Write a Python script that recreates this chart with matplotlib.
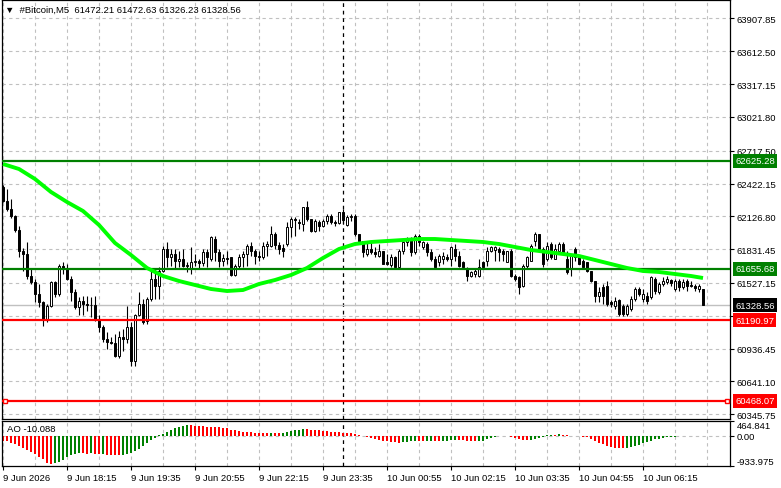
import numpy as np
import pandas as pd
import matplotlib
matplotlib.use("Agg")
import matplotlib.pyplot as plt
import matplotlib.transforms as mtransforms

# ---- data ----
opens = [62391, 62265, 62193, 62130, 62004, 61815, 61788, 61590, 61536, 61428,
         61356, 61203, 61320, 61536, 61428, 61680, 61653, 61563, 61446, 61311,
         61365, 61338, 61329, 61329, 61203, 61131, 61023, 60996, 60987, 60870,
         61041, 61023, 61131, 60825, 61239, 61338, 61185, 61383, 61563, 61500,
         61635, 61833, 61761, 61788, 61725, 61743, 61680, 61653, 61716, 61725,
         61707, 61806, 61743, 61923, 61806, 61725, 61752, 61761, 61599, 61680,
         61761, 61788, 61860, 61815, 61770, 61761, 61860, 61860, 61968, 61869,
         61842, 61878, 62031, 62103, 62076, 62058, 62211, 62103, 61995, 62076,
         62040, 62085, 62130, 62076, 62067, 62166, 62049, 62121, 62130, 61968,
         61905, 61788, 61833, 61806, 61770, 61815, 61716, 61689, 61761, 61671,
         61815, 61896, 61914, 61806, 61950, 61851, 61878, 61806, 61743, 61716,
         61743, 61761, 61743, 61833, 61770, 61716, 61653, 61590, 61608, 61590,
         61716, 61725, 61815, 61824, 61833, 61815, 61716, 61815, 61590, 61581,
         61500, 61680, 61725, 61905, 61968, 61833, 61743, 61878, 61743, 61815,
         61878, 61743, 61653, 61833, 61761, 61725, 61716, 61635, 61545, 61410,
         61491, 61500, 61356, 61320, 61374, 61320, 61248, 61293, 61383, 61473,
         61383, 61410, 61401, 61563, 61446, 61518, 61536, 61554, 61473, 61545,
         61491, 61545, 61509, 61500, 61473, 61472.21]
highs = [62409, 62373, 62283, 62139, 62040, 61842, 61896, 61653, 61563, 61518,
         61365, 61338, 61545, 61545, 61698, 61716, 61698, 61590, 61473, 61401,
         61410, 61410, 61401, 61410, 61239, 61149, 61086, 61041, 61068, 61095,
         61113, 61320, 61176, 61248, 61446, 61383, 61401, 61635, 61653, 61671,
         61860, 61896, 61833, 61833, 61815, 61833, 61716, 61851, 61788, 61743,
         61833, 61833, 61950, 61950, 61833, 61788, 61815, 61761, 61698, 61788,
         61815, 61878, 61896, 61833, 61815, 61896, 61905, 62040, 61986, 61896,
         61878, 62076, 62121, 62121, 62103, 62211, 62265, 62103, 62103, 62094,
         62103, 62148, 62148, 62094, 62166, 62193, 62139, 62148, 62148, 61968,
         61905, 61896, 61896, 61851, 61878, 61815, 61788, 61788, 61770, 61833,
         61905, 61941, 61941, 61968, 61968, 61905, 61896, 61833, 61770, 61788,
         61806, 61788, 61860, 61878, 61815, 61725, 61671, 61635, 61653, 61743,
         61725, 61851, 61860, 61860, 61851, 61833, 61815, 61833, 61608, 61590,
         61698, 61770, 61878, 61986, 61968, 61851, 61896, 61896, 61878, 61896,
         61896, 61815, 61788, 61851, 61770, 61743, 61716, 61635, 61545, 61491,
         61518, 61545, 61374, 61401, 61383, 61338, 61338, 61410, 61491, 61491,
         61473, 61446, 61590, 61581, 61536, 61581, 61590, 61563, 61563, 61563,
         61563, 61563, 61545, 61518, 61518, 61472.63]
lows = [62256, 62175, 62112, 61986, 61761, 61635, 61563, 61518, 61356, 61311,
        61140, 61176, 61311, 61401, 61410, 61608, 61554, 61365, 61293, 61239,
        61239, 61275, 61221, 61185, 61086, 60996, 60933, 60978, 60861, 60852,
        60915, 60987, 60780, 60780, 61230, 61158, 61158, 61365, 61383, 61383,
        61626, 61671, 61680, 61653, 61671, 61671, 61626, 61608, 61680, 61653,
        61680, 61671, 61725, 61725, 61671, 61680, 61698, 61590, 61590, 61653,
        61671, 61680, 61770, 61698, 61725, 61743, 61770, 61851, 61833, 61788,
        61761, 61860, 61941, 61950, 62013, 61995, 62085, 61986, 61986, 61995,
        62031, 62058, 62058, 62040, 62058, 62058, 62040, 62085, 61950, 61896,
        61761, 61770, 61788, 61761, 61761, 61698, 61689, 61671, 61653, 61653,
        61788, 61860, 61770, 61788, 61860, 61833, 61770, 61725, 61653, 61680,
        61698, 61725, 61680, 61725, 61671, 61653, 61545, 61581, 61581, 61581,
        61653, 61680, 61806, 61725, 61725, 61725, 61716, 61581, 61545, 61428,
        61491, 61653, 61725, 61860, 61815, 61671, 61725, 61743, 61743, 61815,
        61788, 61608, 61590, 61725, 61698, 61653, 61626, 61536, 61356, 61356,
        61338, 61320, 61311, 61293, 61230, 61230, 61230, 61275, 61365, 61410,
        61356, 61338, 61383, 61428, 61428, 61500, 61518, 61500, 61455, 61455,
        61473, 61455, 61491, 61455, 61446, 61326.23]
closes = [62265, 62193, 62130, 62004, 61815, 61788, 61590, 61536, 61428, 61356,
          61203, 61320, 61536, 61428, 61680, 61653, 61563, 61446, 61311, 61365,
          61338, 61329, 61332, 61203, 61131, 61023, 60996, 60987, 60870, 61041,
          61023, 61131, 60825, 61239, 61338, 61176, 61383, 61563, 61500, 61635,
          61833, 61761, 61788, 61725, 61743, 61680, 61689, 61716, 61725, 61707,
          61806, 61761, 61941, 61806, 61725, 61752, 61743, 61599, 61680, 61761,
          61788, 61860, 61815, 61770, 61761, 61860, 61878, 61968, 61869, 61833,
          61815, 62031, 62103, 62094, 62067, 62211, 62103, 61995, 62085, 62040,
          62085, 62130, 62076, 62067, 62166, 62094, 62121, 62130, 61968, 61905,
          61806, 61833, 61806, 61788, 61815, 61698, 61698, 61761, 61671, 61815,
          61896, 61923, 61806, 61950, 61896, 61896, 61806, 61743, 61671, 61770,
          61770, 61743, 61851, 61770, 61680, 61671, 61590, 61626, 61635, 61671,
          61671, 61815, 61851, 61851, 61806, 61788, 61815, 61590, 61563, 61491,
          61680, 61761, 61860, 61968, 61833, 61698, 61860, 61761, 61833, 61878,
          61806, 61626, 61770, 61761, 61698, 61671, 61635, 61545, 61410, 61446,
          61410, 61338, 61338, 61365, 61248, 61248, 61320, 61383, 61473, 61428,
          61428, 61365, 61581, 61455, 61518, 61545, 61563, 61527, 61545, 61491,
          61536, 61500, 61500, 61482, 61500, 61328.56]

# moving average (bright green line), sampled every few bars
ma_bars = [0, 4, 8, 12, 16, 20, 24, 28, 32, 36, 40, 44, 48, 52, 56, 60, 64, 68,
           72, 76, 80, 84, 88, 92, 96, 100, 104, 108, 112, 116, 120, 124, 128,
           132, 136, 140, 144, 148, 152, 156, 160, 164, 168, 172, 175]
ma_values = [62598, 62553, 62463, 62346, 62256, 62175, 62049, 61887, 61779,
             61662, 61590, 61545, 61509, 61473, 61455, 61464, 61518, 61554,
             61599, 61662, 61752, 61833, 61878, 61896, 61905, 61914, 61923,
             61923, 61914, 61905, 61896, 61878, 61851, 61824, 61806, 61788,
             61770, 61734, 61698, 61662, 61635, 61626, 61608, 61590, 61572]

# Awesome Oscillator
ao_values = [-150, -170, -210, -240, -300, -360, -430, -500, -560, -640,
             -730, -830, -870, -850, -800, -740, -660, -600, -560, -530,
             -540, -550, -530, -560, -570, -560, -580, -590, -600, -600,
             -590, -560, -530, -470, -390, -300, -220, -130, -60, 30,
             70, 130, 200, 250, 280, 320, 340, 330, 320, 310,
             300, 290, 285, 280, 270, 260, 250, 200, 170, 150,
             130, 110, 110, 100, 95, 90, 85, 90, 85, 80,
             95, 120, 150, 180, 200, 215, 210, 200, 185, 170,
             150, 140, 125, 110, 110, 100, 90, 80, 60, 20,
             10, -20, -60, -90, -120, -150, -170, -190, -200, -210,
             -200, -180, -160, -150, -160, -170, -160, -150, -160, -170,
             -160, -150, -130, -120, -130, -140, -150, -160, -170, -160,
             -150, -100, -60, -30, -10, 10, 5, -20, -60, -110,
             -130, -140, -120, -90, -60, -30, 20, 40, 30, 50,
             40, 20, 5, -10, -5, -20, -40, -80, -150, -210,
             -260, -310, -340, -360, -370, -380, -375, -350, -310, -270,
             -230, -190, -150, -110, -85, -60, -40, -30, -20, -15,
             -10, -8, -12, -6, -5, -10.088]

price_ticks = [63907.85, 63612.50, 63317.15, 63021.80, 62717.50, 62422.15,
               62126.80, 61831.45, 61527.15, 61231.80, 60936.45, 60641.10, 60345.75]
level_prices = [62625.28, 61655.68, 61190.97, 60468.07]
level_colors = ["#008000", "#008000", "#ff0000", "#ff0000"]
last_price = 61328.56
ao_range = [-933.975, 464.841]

plt.rcParams["font.family"] = ["Liberation Sans", "DejaVu Sans"]
FS = 6.8

W, H = 781, 489
fig = plt.figure(figsize=(W / 100, H / 100), dpi=100)


def box(l, t, r, b):
    return [l / W, 1 - b / H, (r - l) / W, (b - t) / H]


ax = fig.add_axes(box(2, 1, 730, 420))
ax2 = fig.add_axes(box(2, 422, 730, 467))

n = len(closes)
x = np.arange(n)
o = np.array(opens); c = np.array(closes)
hi = np.array(highs); lo = np.array(lows)
xlim = (-0.25, 181.75)

grid_kw = dict(color="#c0c0c0", ls=(0, (3, 3)), lw=0.8, zorder=0)
for a in (ax, ax2):
    a.set_xlim(*xlim)
    for gx in range(0, 182, 8):
        a.axvline(gx, **grid_kw)
    a.axvline(85, color="black", ls=(0, (3, 3)), lw=0.9, zorder=1)
    for s in a.spines.values():
        s.set_color("black")
        s.set_linewidth(0.9)

for p in price_ticks:
    ax.axhline(p, **grid_kw)
ax.axhline(last_price, color="#c0c0c0", lw=1, zorder=1)

# candles
up = c >= o
ax.vlines(x, lo, hi, color="black", lw=0.8, zorder=2)
bottom = np.minimum(o, c)
height = np.maximum(np.abs(c - o), 4)
ax.bar(x, height, bottom=bottom, width=0.7,
       color=np.where(up, "white", "black"), edgecolor="black", lw=0.7, zorder=3)

# levels
for p, col in zip(level_prices, level_colors):
    ax.axhline(p, color=col, lw=1.6, zorder=4)
ax.plot([0.5, 181], [level_prices[-1]] * 2, ls="none", marker="s", ms=3.5,
        mfc="white", mec="#ff0000", mew=1, zorder=6, clip_on=False)

ax.plot(ma_bars, ma_values, color="#00ff00", lw=2.8, zorder=5, solid_capstyle="butt")

ax.set_ylim(60303, 64074)
ax.set_xticks([])
ax.yaxis.tick_right()
ax.set_yticks(price_ticks, [f"{p:.2f}" for p in price_ticks])
ax.tick_params(axis="y", length=3, width=0.8, pad=2, labelsize=FS)

trans = mtransforms.blended_transform_factory(ax.transAxes, ax.transData)
x_lbl = (735 - 2) / 728
for p, col in list(zip(level_prices, level_colors)) + [(last_price, "black")]:
    ax.text(x_lbl, p, f"{p:.2f}", transform=trans, ha="left", va="center",
            color="white", fontsize=FS, clip_on=False, zorder=10,
            bbox=dict(boxstyle="square,pad=0.25", fc=col, ec="none"))

# AO panel
ao = np.array(ao_values)
ao_colors = ["#ff0000"] + ["#008000" if ao[i] > ao[i - 1] else "#ff0000" for i in range(1, n)]
ax2.axhline(0, **grid_kw)
ax2.bar(x, ao, width=0.3, color=ao_colors, zorder=2)
ax2.set_ylim(*ao_range)
ax2.yaxis.tick_right()
ax2.set_yticks([ao_range[0], 0, ao_range[1]], ["-933.975", "0.00", "464.841"])
lbls = ax2.get_yticklabels()
lbls[0].set_va("bottom")
lbls[2].set_va("top")
ax2.tick_params(axis="y", length=3, width=0.8, pad=2, labelsize=FS)

times = pd.date_range("2026-06-09 16:55", periods=n, freq="5min")
tick_bars = list(range(0, n, 16))
tick_labels = ["9 Jun 2026"] + [f"{times[i].day} Jun {times[i]:%H:%M}" for i in tick_bars[1:]]
ax2.set_xticks(tick_bars, tick_labels)
for t in ax2.get_xticklabels():
    t.set_ha("left")
ax2.tick_params(axis="x", length=3, width=0.8, pad=2, labelsize=FS)

fig.text(5 / W, 1 - 10 / H, "\u25bc  #Bitcoin,M5  61472.21 61472.63 61326.23 61328.56",
         fontsize=FS, va="center", ha="left")
fig.text(7 / W, 1 - 430 / H, "AO -10.088", fontsize=FS, va="center", ha="left")

fig.savefig("out.png", dpi=100)
